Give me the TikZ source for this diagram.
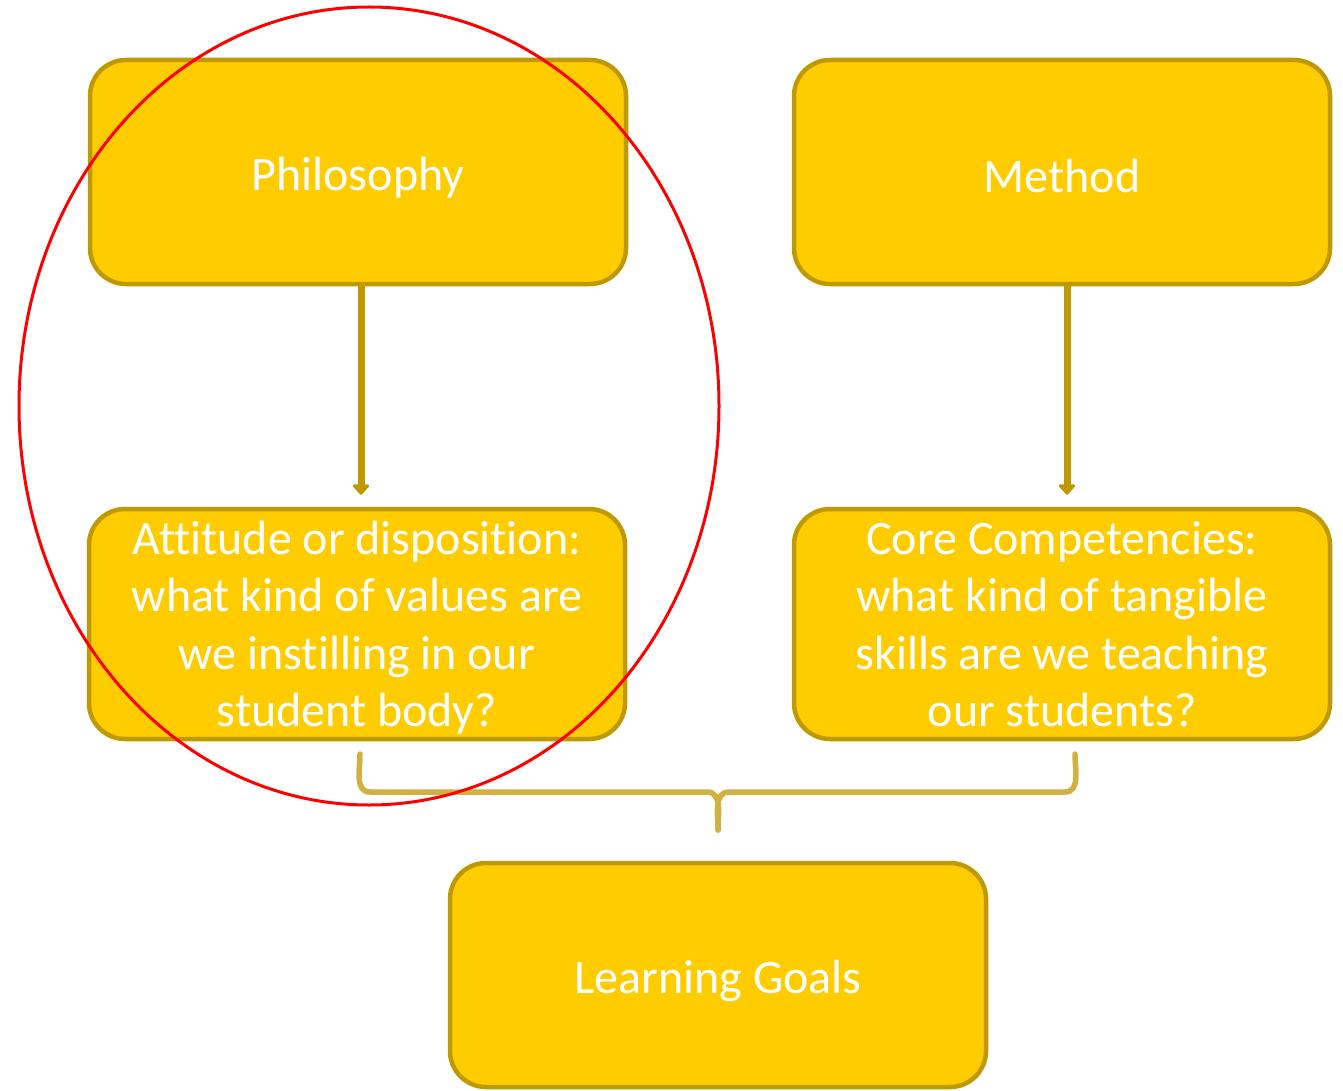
\documentclass[tikz,border=0pt]{standalone}
\usepackage{fontspec}
\setmainfont[Ligatures=NoCommon]{Carlito}
\usetikzlibrary{arrows,arrows.meta}
\definecolor{boxfill}{HTML}{FFCC00}
\definecolor{boxline}{HTML}{BF9900}
\definecolor{bracecol}{HTML}{D1B142}
\tikzset{
  goalbox/.style = {draw=boxline, line width=4.5pt, fill=boxfill,
    rounded corners=36pt, minimum width=536pt, minimum height=224pt,
    align=center, text centered, inner sep=0pt, text=white,
    font=\fontsize{48}{57.5}\selectfont},
  flow/.style = {-{Triangle[length=11pt,width=19pt,round]}, draw=boxline,
    line width=7pt},
  bracket/.style = {draw=bracecol, line width=5.5pt, line cap=round}}
\newcommand{\down}[2]{\raisebox{-#1}[\height][\depth]{#2}}
\newcommand{\lines}[1]{\down{5pt}{\begin{tabular}{@{}c@{}}#1\end{tabular}}}

\begin{document}
\begin{tikzpicture}[x=1pt,y=-1pt]
\useasboundingbox (0,0) rectangle (1343,1091);

\node [goalbox] (phil) at (358,172) {\down{6pt}{Philosophy}};
\node [goalbox] (meth) at (1062,172) {\down{4pt}{Method}};
\node [goalbox] (att) at (357,624) {\lines{Attitude or disposition:\\what kind of values are\\we instilling in our\\student body?}};
\node [goalbox] (core) at (1062,624) {\lines{Core Competencies:\\what kind of tangible\\skills are we teaching\\our students?}};
\node [goalbox] (goals) at (718,975) {\down{6pt}{Learning Goals}};

\draw [flow, shorten >=12pt] (phil.south -| 361,0) -- (att.north -| 361,0);
\draw [flow, shorten >=12pt] (meth.south -| 1067,0) -- (core.north -| 1067,0);

% brace joining the two lower boxes
\coordinate (bl) at (360,754);
\coordinate (br) at (1075,754);
\coordinate (tip) at (718,830);
\draw [bracket] (bl) to[out=-90,in=180] (370,792) -- (707,792)
  to[out=0,in=90] (tip);
\draw [bracket] (br) to[out=-90,in=0] (1065,792) -- (729,792)
  to[out=180,in=90] (tip);

\draw [red, line width=3pt] (369,406) ellipse [x radius=350, y radius=399];
\end{tikzpicture}
\end{document}
